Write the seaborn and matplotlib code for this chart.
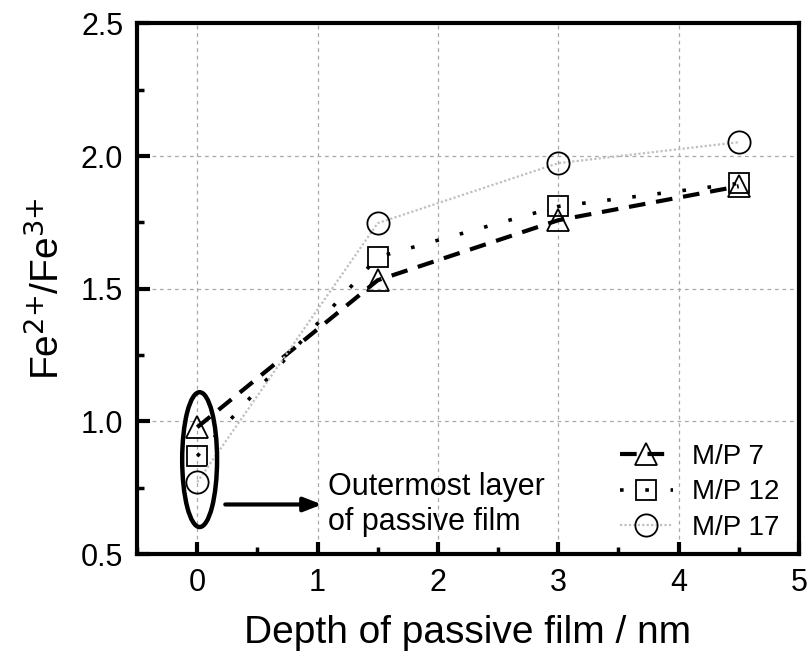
import numpy as np
import pandas as pd
import matplotlib
matplotlib.use("Agg")
import matplotlib.pyplot as plt
from matplotlib.patches import Ellipse
import seaborn as sns

# data
depth = [0, 1.5, 3, 4.5]
mp7 = [0.978, 1.532, 1.758, 1.886]
mp12 = [0.869, 1.619, 1.81, 1.897]
mp17 = [0.771, 1.747, 1.973, 2.052]
labels = ["M/P 7", "M/P 12", "M/P 17"]

sns.set_theme(style="white")
plt.rcParams["font.family"] = ["Liberation Sans", "DejaVu Sans"]
plt.rcParams["mathtext.default"] = "regular"
plt.rcParams["text.color"] = "black"
plt.rcParams["axes.labelcolor"] = "black"
plt.rcParams["xtick.color"] = "black"
plt.rcParams["ytick.color"] = "black"

fig = plt.figure(figsize=(8.11, 6.66), dpi=100)
ax = fig.add_axes([0.169, 0.168, 0.816, 0.797])

styles = [
    dict(marker="^", ls=(0, (4, 2.6)), lw=3.0, color="black", ms=16),
    dict(marker="s", ls=(0, (1, 6)), lw=2.6, color="black", ms=14),
    dict(marker="o", ls=(0, (1, 1)), lw=1.6, color="#c0c0c0", ms=16),
]

for vals, lab, st in zip([mp7, mp12, mp17], labels, styles):
    df = pd.DataFrame({"depth": depth, "ratio": vals})
    sns.lineplot(data=df, x="depth", y="ratio", ax=ax, label=lab,
                 color=st["color"], linestyle=st["ls"], linewidth=st["lw"],
                 marker=st["marker"], markersize=st["ms"],
                 markerfacecolor="none", markeredgecolor="black",
                 markeredgewidth=1.3)

ax.set_xlim(-0.5, 5)
ax.set_ylim(0.5, 2.5)
ax.set_xticks([0, 1, 2, 3, 4, 5])
ax.set_yticks([0.5, 1.0, 1.5, 2.0, 2.5])
ax.set_yticklabels(["0.5", "1.0", "1.5", "2.0", "2.5"])
ax.set_xticks(np.arange(-0.5, 5.01, 0.5), minor=True)
ax.set_yticks(np.arange(0.5, 2.51, 0.25), minor=True)
ax.grid(True, which="major", color="#a8a8a8", linestyle=(0, (3, 3)), linewidth=0.9)
ax.tick_params(axis="both", which="major", direction="in", length=9, width=3,
               labelsize=22, pad=10, bottom=True, left=True, top=False, right=False)
ax.tick_params(axis="both", which="minor", direction="in", length=5, width=2.5,
               bottom=True, left=True, top=False, right=False)
for sp in ax.spines.values():
    sp.set_linewidth(3)
    sp.set_color("black")

ax.set_xlabel("Depth of passive film / nm", fontsize=28, labelpad=12)
ax.set_ylabel(r"Fe$^{\text{2+}}$/Fe$^{\text{3+}}$", fontsize=28, labelpad=10)

# annotation: ellipse, arrow and note
ax.add_patch(Ellipse((0.02, 0.856), 0.29, 0.508, fill=False, lw=3.2,
                     edgecolor="black", zorder=5))
ax.annotate("", xy=(1.06, 0.687), xytext=(0.21, 0.687),
            arrowprops=dict(arrowstyle="-|>,head_length=0.9,head_width=0.35",
                            lw=3, color="black"))
ax.text(1.09, 0.687, "Outermost layer\nof passive film", fontsize=22,
        va="center", ha="left", linespacing=1.2)

ax.legend(loc="lower right", frameon=False, fontsize=20, handlelength=1.9,
          handletextpad=0.7, labelspacing=0.35, borderaxespad=0.3,
          bbox_to_anchor=(1.0, -0.012))

fig.savefig("out.png", dpi=100)
